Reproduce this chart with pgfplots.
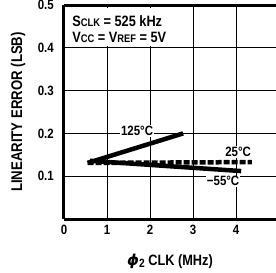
\documentclass[border=0pt]{standalone}
\usepackage{fontspec}
\setmainfont[FakeStretch=0.85]{Liberation Sans}
\newfontfamily\dejavu{DejaVu Sans}
\usepackage{pgfplots}
\pgfplotsset{compat=1.18}
\begin{document}
\begin{tikzpicture}
\begin{axis}[name=ax, scale only axis, width=212pt, height=214pt,
  xmin=0, xmax=4.93, ymin=0, ymax=0.5,
  axis x line=bottom, axis y line=left,
  axis line style={line width=3pt, -},
  xtick={0,1,2,3,4}, xticklabels={0,1,2,3,4},
  ytick={0.1,0.2,0.3,0.4,0.5}, yticklabels={0.1,0.2,0.3,0.4,0.5},
  grid=major, major grid style={black, line width=1pt},
  major tick length=0pt,
  tick label style={font=\bfseries\fontsize{13.5}{14}\selectfont, inner sep=0pt},
  xticklabel style={anchor=north, yshift=-6pt},
  yticklabel style={anchor=east, xshift=-10pt},
  xlabel={{\dejavu\bfseries\itshape ϕ}\raisebox{-2pt}{\fontsize{12}{12}\selectfont 2} CLK (MHz)},
  ylabel={LINEARITY ERROR (LSB)},
  xlabel style={font=\bfseries\fontsize{15}{16}\selectfont, at={(axis description cs:0.5,-0.196)}, anchor=center},
  ylabel style={font=\bfseries\fontsize{15.5}{16}\selectfont, at={(axis description cs:-0.217,0.5)}, anchor=center},
  clip=false,
]
\fill[white] (axis cs:0.03,0.404) rectangle (axis cs:2.6,0.5);
\draw[line width=1pt] (axis cs:1,0.5) -- (axis cs:1,0.492);
\draw[line width=1pt] (axis cs:2,0.5) -- (axis cs:2,0.492);
\node[anchor=north west, inner sep=0pt, align=left, font=\bfseries\fontsize{15}{16}\selectfont] at (axis cs:0.19,0.475)
  {S{\fontsize{11}{12}\selectfont CLK} = 525 kHz\\[0pt]V{\fontsize{11}{12}\selectfont CC} = V{\fontsize{11}{12}\selectfont REF} = 5V};
% 125 C
\addplot[black, line width=4.5pt] coordinates {(0.55,0.131) (2.77,0.2)};
% 25 C
\addplot[black, line width=4.5pt, dash pattern=on 6pt off 2pt] coordinates {(0.55,0.131) (4.37,0.133)};
% -55 C
\addplot[black, line width=4.5pt] coordinates {(0.6,0.136) (4.12,0.112)};
\node[fill=white, inner sep=1pt, font=\bfseries\fontsize{13.5}{14}\selectfont] at (axis cs:1.70,0.205) {125°C};
\node[fill=white, inner sep=1pt, font=\bfseries\fontsize{13.5}{14}\selectfont] at (axis cs:4.05,0.157) {25°C};
\node[fill=white, inner sep=1pt, font=\bfseries\fontsize{13.5}{14}\selectfont] at (axis cs:3.70,0.088) {−55°C};
\draw[line width=3pt] (rel axis cs:0,1) -- (rel axis cs:1,1);
\end{axis}
\pgfresetboundingbox
\path ([shift={(-64pt,-54pt)}]ax.south west) rectangle ([shift={(0pt,5pt)}]ax.north east);
\end{tikzpicture}
\end{document}
